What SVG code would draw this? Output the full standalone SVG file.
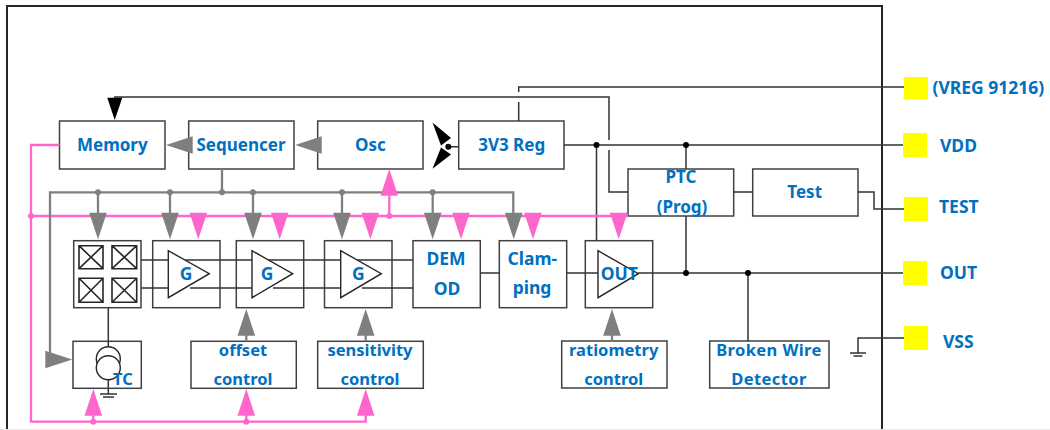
<svg xmlns="http://www.w3.org/2000/svg" width="1050" height="430" viewBox="0 0 1050 430">
<style>
.box{fill:#fff;stroke:#404040;stroke-width:1.5}
.open{fill:none;stroke:#404040;stroke-width:1.5}
.sq{fill:#fff;stroke:#262626;stroke-width:1.6}
.w{fill:none;stroke:#333;stroke-width:1.5}
.g{fill:none;stroke:#7f7f7f;stroke-width:2.3}
.p{fill:none;stroke:#ff66cc;stroke-width:2.3}
.tri{fill:none;stroke:#262626;stroke-width:1.4}
.cir{fill:#fff;stroke:#262626;stroke-width:1.4}
.pad{fill:#ffff00}
.kd{fill:#000}.gd{fill:#7f7f7f}.pd{fill:#ff66cc}
text{font-family:"Noto Sans","Open Sans",sans-serif;font-weight:700;font-size:17.5px;fill:#0070c0;text-anchor:middle}
.m{font-size:17px}
.n{font-size:16.5px}
.b{font-size:16.5px;letter-spacing:.4px}
.s{text-anchor:start}
</style>
<defs>
<path id="dn" d="M-8.800 0H8.800L0 26.600Z"/>
<path id="up" d="M-8.800 0H8.800L0 -26.600Z"/>
</defs>
<rect id="chip" x="7" y="6" width="875" height="440" fill="#fff" stroke="#262626" stroke-width="2"/>
<rect x="0" y="429" width="1050" height="1" fill="#eee"/>
<g id="memory"><rect class="box" x="59.500" y="121" width="105.500" height="48"/><text class="m" x="112.300" y="151">Memory</text></g>
<g id="sequencer"><rect class="box" x="188.700" y="121" width="105.300" height="48"/><text class="m" x="241" y="151">Sequencer</text></g>
<g id="osc"><rect class="box" x="317.700" y="121" width="105.300" height="48"/><text class="m" x="370.500" y="151">Osc</text></g>
<g id="reg"><rect class="box" x="458.700" y="121" width="105.300" height="48"/><text class="m" x="511.700" y="151">3V3 Reg</text></g>
<g id="ptc"><rect class="box" x="628" y="169" width="105.700" height="47"/><text class="m" x="681" y="183">PTC</text><text class="m" x="682" y="213">(Prog)</text></g>
<g id="test"><rect class="box" x="752.700" y="169" width="105.300" height="47"/><text class="m" x="804.700" y="198">Test</text></g>
<g id="hall">
<rect class="box" x="73.700" y="240.700" width="67.300" height="67"/>
<g class="sq">
<path d="M79 245.700h24v23h-24zM79 245.700l24 23M103 245.700l-24 23"/>
<path d="M112 245.700h24.700v23h-24.700zM112 245.700l24.700 23M136.700 245.700l-24.700 23"/>
<path d="M79 278.300h24v24h-24zM79 278.300l24 24M103 278.300l-24 24"/>
<path d="M112 278.300h24.700v24h-24.700zM112 278.300l24.700 24M136.700 278.300l-24.700 24"/>
</g>
</g>
<g id="g1"><rect class="open" x="152.700" y="240.700" width="67.300" height="67"/><path class="tri" d="M168.300 250.700V297.700L209.300 273.700Z"/><text x="186" y="279.700">G</text></g>
<g id="g2"><rect class="open" x="236.300" y="240.700" width="67.400" height="67"/><path class="tri" d="M252 250.700V297.700L292.700 273.700Z"/><text x="267" y="279.700">G</text></g>
<g id="g3"><rect class="open" x="324.500" y="240.700" width="67.500" height="67"/><path class="tri" d="M340.700 250.700V297.700L381.300 273.700Z"/><text x="358.300" y="279.700">G</text></g>
<g id="demod"><rect class="open" x="413" y="240.700" width="67.300" height="67"/><text x="446" y="265">DEM</text><text x="447" y="295">OD</text></g>
<g id="clamping"><rect class="open" x="499.300" y="240.700" width="67.400" height="67"/><text x="532.300" y="265">Clam-</text><text x="532" y="294">ping</text></g>
<g id="out-amp"><rect class="open" x="585.300" y="240.700" width="67.400" height="67"/><path class="tri" d="M598 250.700V297.700L638.300 273.700Z"/><text x="619.300" y="280">OUT</text></g>
<g id="tc">
<rect class="open" x="73" y="341.300" width="68.300" height="47"/>
<circle cx="108.300" cy="358.700" r="12" class="cir"/><circle cx="108.300" cy="367.700" r="12" class="cir"/>
<text class="n" x="123" y="385">TC</text>
</g>
<g id="offset"><rect class="box" x="191" y="341.300" width="105.300" height="47"/><text class="n" x="243" y="355.700">offset</text><text class="n" x="243" y="385">control</text></g>
<g id="sensitivity"><rect class="box" x="317.700" y="341.300" width="105.600" height="47"/><text class="n" x="370" y="355.700">sensitivity</text><text class="n" x="370" y="385">control</text></g>
<g id="ratiometry"><rect class="box" x="561.700" y="341" width="105.300" height="47"/><text class="n" x="613.700" y="355.700">ratiometry</text><text class="n" x="613.700" y="385">control</text></g>
<g id="broken"><rect class="box" x="709.700" y="341" width="119.300" height="47"/><text class="b" x="769" y="356">Broken Wire</text><text class="b" x="769" y="384.700">Detector</text></g>
<g id="pad-vreg"><rect class="pad" x="904" y="77" width="24" height="22.500"/><text class="s" x="932.500" y="94">(VREG 91216)</text></g>
<g id="pad-vdd"><rect class="pad" x="903" y="133" width="24" height="24"/><text class="s" x="940" y="152">VDD</text></g>
<g id="pad-test"><rect class="pad" x="904" y="197" width="24" height="24"/><text class="s" x="939" y="213">TEST</text></g>
<g id="pad-out"><rect class="pad" x="903" y="261" width="24" height="24"/><text class="s" x="940" y="279">OUT</text></g>
<g id="pad-vss"><rect class="pad" x="904" y="326" width="24" height="24"/><text class="s" x="943" y="347.700">VSS</text></g>
<g id="connectors">
<path class="w" d="M114 97H609V140M609 150V192H628"/>
<path class="w" d="M518.700 121V102M518.700 92V87H904"/>
<path class="w" d="M564 145H903M596.500 145V240.700M686 145V169M686 216V273M638 273H903M748 273V341M448 146.700H458.700"/>
<path class="w" d="M733.700 192H752.700M858 192H874V209H904"/>
<path class="w" d="M904 338H858V353M850 353H866M853.500 356H862.500"/>
<path class="w" d="M141 260H168M141 288H168M185 260H252M190 288H252M268 260H340.700M273 288H340.700M357 260H413M362 288H413M480.300 273H499.300M566.700 273H598"/>
<path class="w" d="M108.300 307.700V346.700M108.300 379.700V394M100 394H117M103 397H114"/>
<path class="p" d="M59.500 145H31V421.700H365.700V415M31 216H628M389.300 195V216M93.300 415V421.700M246.300 415V421.700"/>
<path class="g" d="M222 169V192.300M50 359V192.300H513.300V213M98 192.300V213M170 192.300V213M253 192.300V213M342 192.300V213M432.700 192.300V213M246.300 335V341.300M365.700 335V341.300M612 335V341.300"/>
<g class="gd">
<circle cx="98" cy="192.300" r="3"/><circle cx="170" cy="192.300" r="3"/><circle cx="222" cy="192.300" r="3"/><circle cx="253" cy="192.300" r="3"/><circle cx="342" cy="192.300" r="3"/><circle cx="432.700" cy="192.300" r="3"/>
<use href="#dn" x="98" y="212.700"/><use href="#dn" x="170" y="212.700"/><use href="#dn" x="253" y="212.700"/><use href="#dn" x="342" y="212.700"/><use href="#dn" x="432.700" y="212.700"/><use href="#dn" x="513.700" y="212.700"/>
<use href="#up" x="246.300" y="335.700"/><use href="#up" x="365.700" y="335.700"/><use href="#up" x="612" y="335.700"/>
<path d="M166 145L192.700 136.300V153.800Z"/><path d="M295.300 145L321.700 136.300V153.800Z"/><path d="M72.300 359.500L45.300 350.700V368.300Z"/>
</g>
<g class="pd">
<circle cx="31" cy="216" r="3"/><circle cx="389.300" cy="216" r="3"/><circle cx="93.300" cy="421.700" r="3"/><circle cx="246.300" cy="421.700" r="3"/>
<use href="#dn" x="198.300" y="212.700"/><use href="#dn" x="279.700" y="212.700"/><use href="#dn" x="370.300" y="212.700"/><use href="#dn" x="461" y="212.700"/><use href="#dn" x="533" y="212.700"/><use href="#dn" x="618.700" y="212.700"/>
<use href="#up" x="389.300" y="195.700"/><use href="#up" x="93.300" y="415.700"/><use href="#up" x="246.300" y="415.700"/><use href="#up" x="365.700" y="415.700"/>
</g>
<g class="kd">
<circle cx="596.500" cy="145" r="3"/><circle cx="686" cy="145" r="3"/><circle cx="686" cy="273" r="3"/><circle cx="748" cy="273" r="3"/><circle cx="448.300" cy="146.700" r="3"/>
<path d="M107.300 97.700H122.300L114.700 120Z"/>
<path d="M432.500 122.500L451 138L441 145.500Z"/><path d="M432.500 168.700L451 154.500L441 147.500Z"/>
</g>
</g>
</svg>
